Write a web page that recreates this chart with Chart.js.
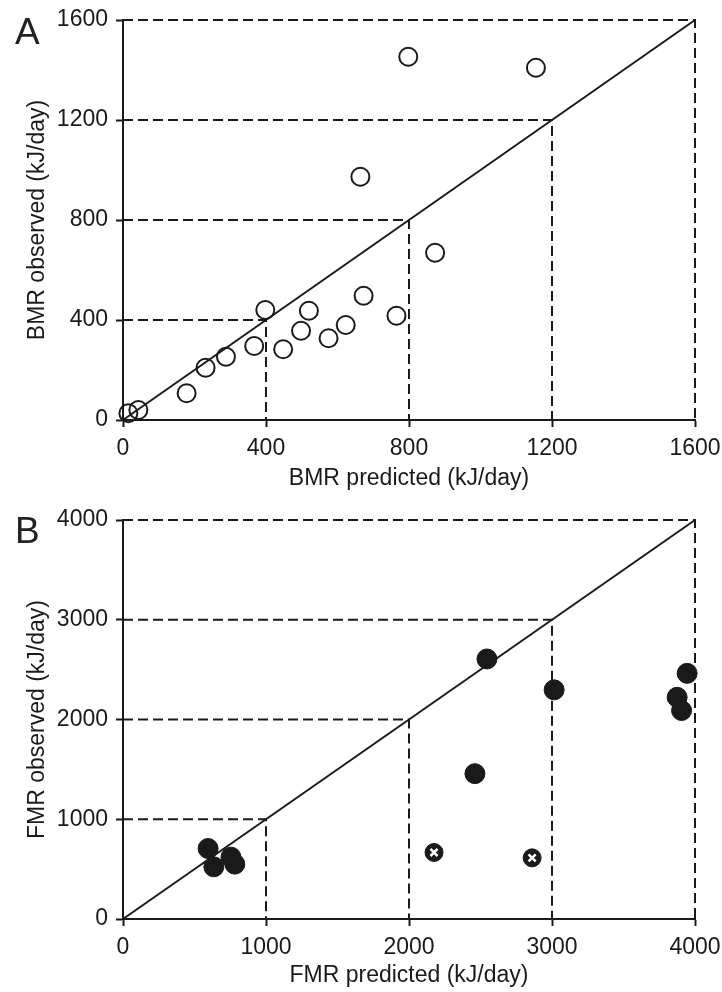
<!DOCTYPE html>
<html>
<head>
<meta charset="utf-8">
<script src="https://cdn.jsdelivr.net/npm/chart.js@4.4.1/dist/chart.umd.min.js"></script>
<style>
  body { margin: 0; background: #fff; }
  #wrap { position: relative; width: 722px; height: 992px; }
  canvas { position: absolute; left: 0; }
  .panel { position: absolute; left: 15px; font: 37px "Liberation Sans", Arial, sans-serif; line-height: 1; color: #222; }
</style>
</head>
<body>
<div id="wrap">
  <canvas id="chartA" width="722" height="500" style="top:0"></canvas>
  <canvas id="chartB" width="722" height="492" style="top:500px"></canvas>
  <div class="panel" style="top:13px">A</div>
  <div class="panel" style="top:512px">B</div>
</div>
<script>
// panel A: basal metabolic rate
const bmrTicks = [0, 400, 800, 1200, 1600];
const bmrPredicted = [15, 43, 178, 231, 288, 367, 398, 448, 498, 520, 575, 623, 673, 765, 873, 664, 798, 1155];
const bmrObserved = [27, 40, 107, 209, 253, 296, 440, 283, 357, 437, 327, 380, 497, 417, 669, 973, 1453, 1409];

// panel B: field metabolic rate
const fmrTicks = [0, 1000, 2000, 3000, 4000];
const fmrPredicted = [595, 635, 755, 782, 2545, 3015, 2461, 3945, 3875, 3906];
const fmrObserved = [707, 523, 620, 550, 2607, 2297, 1457, 2463, 2223, 2090];
// points marked with an x
const fmrExclPredicted = [2175, 2861];
const fmrExclObserved = [667, 613];

const ink = "#1a1a1a";
const font = { family: "'Liberation Sans', Arial, sans-serif", size: 23 };

function pts(xs, ys) {
  return xs.map((x, i) => ({ x: x, y: ys[i] }));
}

// dashed L from each axis tick to the 1:1 line, plus the 1:1 line itself
function guideSets(ticks) {
  const max = ticks[ticks.length - 1];
  const sets = ticks.slice(1).map(v => ({
    data: [{ x: 0, y: v }, { x: v, y: v }, { x: v, y: 0 }],
    showLine: true, borderColor: ink, borderWidth: 2, borderDash: [10, 5],
    pointRadius: 0, clip: false
  }));
  sets.push({
    data: [{ x: 0, y: 0 }, { x: max, y: max }],
    showLine: true, borderColor: ink, borderWidth: 2, pointRadius: 0, clip: false
  });
  return sets;
}

function axis(ticks, title, isX, size, titlePad) {
  return {
    type: "linear",
    min: 0,
    max: ticks[ticks.length - 1],
    afterBuildTicks: s => { s.ticks = ticks.map(v => ({ value: v })); },
    afterFit: s => {
      if (isX) s.height = size; else s.width = size;
      // keep the plot box fixed, labels may spill into the margins
      s.paddingLeft = s.paddingRight = s.paddingTop = s.paddingBottom = 0;
    },
    ticks: { color: ink, font: font, padding: 8, maxRotation: 0, autoSkip: false, callback: v => String(v) },
    grid: { drawOnChartArea: false, drawTicks: true, tickLength: 7, tickWidth: 2, tickColor: ink },
    border: { display: true, color: ink, width: 2 },
    title: { display: true, text: title, color: ink, font: font, padding: titlePad }
  };
}

function makeChart(id, datasets, ticks, xTitle, yTitle, padTop, xHeight, xTitlePad) {
  return new Chart(document.getElementById(id), {
    type: "scatter",
    data: { datasets: datasets },
    options: {
      responsive: false,
      animation: false,
      devicePixelRatio: 1,
      layout: { padding: { top: padTop, right: 27, left: 0, bottom: 0 } },
      plugins: { legend: { display: false }, tooltip: { enabled: false } },
      scales: {
        x: axis(ticks, xTitle, true, xHeight, xTitlePad),
        y: axis(ticks, yTitle, false, 123, { top: 24, bottom: 0 })
      }
    }
  });
}

makeChart("chartA", [
  {
    data: pts(bmrPredicted, bmrObserved),
    pointRadius: 9, pointBorderWidth: 2, pointBorderColor: ink,
    pointBackgroundColor: "rgba(0,0,0,0)", clip: false
  }
].concat(guideSets(bmrTicks)), bmrTicks,
  "BMR predicted (kJ/day)", "BMR observed (kJ/day)", 20, 80, { top: 0, bottom: 8 });

makeChart("chartB", [
  {
    data: pts(fmrExclPredicted, fmrExclObserved),
    pointStyle: "crossRot", pointRadius: 5, pointBorderWidth: 2.5,
    pointBorderColor: "#fff", clip: false
  },
  {
    data: pts(fmrExclPredicted, fmrExclObserved),
    pointRadius: 9, pointBorderWidth: 1, pointBorderColor: ink,
    pointBackgroundColor: ink, clip: false
  },
  {
    data: pts(fmrPredicted, fmrObserved),
    pointRadius: 10, pointBorderWidth: 1, pointBorderColor: ink,
    pointBackgroundColor: ink, clip: false
  }
].concat(guideSets(fmrTicks)), fmrTicks,
  "FMR predicted (kJ/day)", "FMR observed (kJ/day)", 20, 73, { top: 0, bottom: 3 });
</script>
</body>
</html>
